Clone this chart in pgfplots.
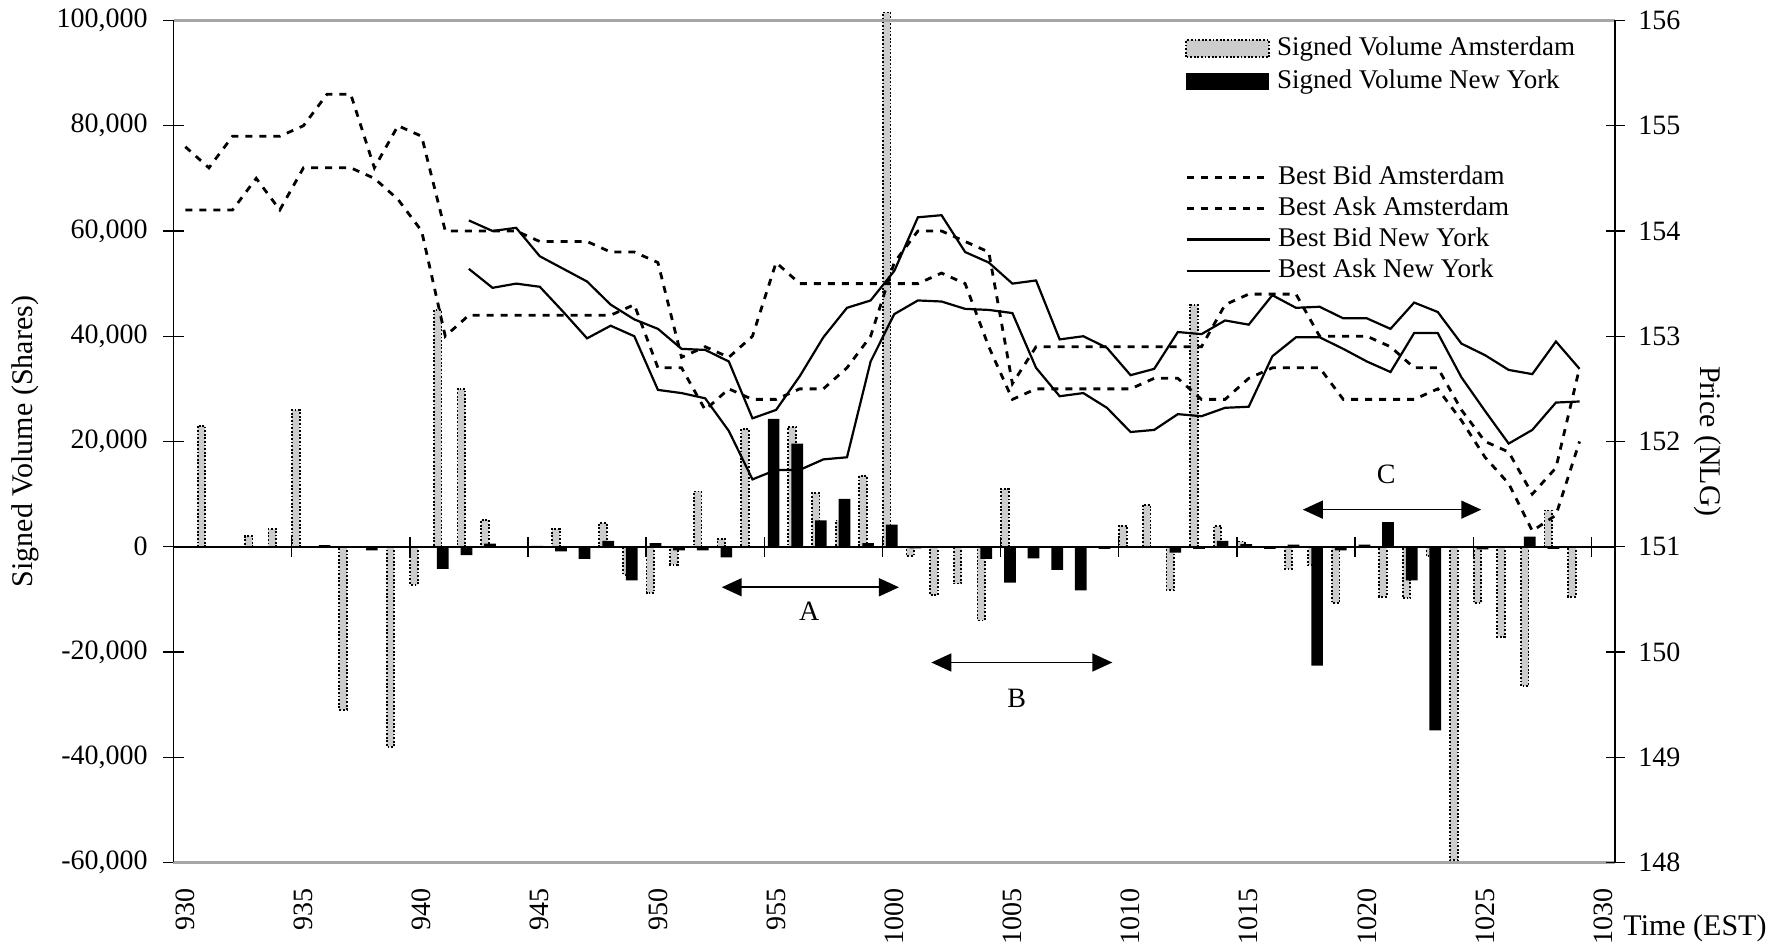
\documentclass[border=0pt]{standalone}
\usepackage{fontspec}
\setmainfont{Liberation Serif}
\usepackage{pgfplots}
\pgfplotsset{compat=1.18}
\usetikzlibrary{arrows.meta}

\tikzset{
  amsbar/.style={fill=gray!40, draw=black, line width=0.9pt, dash pattern=on 0.9pt off 0.9pt},
  nybar/.style={fill=black, draw=none},
  amsline/.style={black, line width=1.4pt, dash pattern=on 3.5pt off 3.5pt},
  nyline/.style={black, line width=1.1pt},
}

\begin{document}
\begin{tikzpicture}[font=\fontsize{14}{16.8}\selectfont]
\pgfplotsset{
  base/.style={scale only axis, width=720.75pt, height=421pt,
    at={(0pt,0pt)}, anchor=south west, xmin=-0.5, xmax=60.5, clip=false},
}

% ---------------- Axis A: signed volume bars ----------------
\begin{axis}[base,
  ymin=-60000, ymax=100000,
  axis x line*=bottom, axis y line*=left,
  x axis line style={draw=gray!70, line width=1.4pt, -},
  y axis line style={draw=black, line width=0.9pt, -},
  xtick={0,5,...,60},
  xticklabels={930,935,940,945,950,955,1000,1005,1010,1015,1020,1025,1030},
  xtick style={draw=none},
  xticklabel style={yshift=-8pt, rotate=90, anchor=east, inner sep=0pt},
  ytick={-60000,-40000,-20000,0,20000,40000,60000,80000,100000},
  yticklabels={{-60,000},{-40,000},{-20,000},0,{20,000},{40,000},{60,000},{80,000},{100,000}},
  ytick style={draw=black, line width=0.7pt},
  major tick length=10pt, tick align=center,
  yticklabel style={anchor=east, inner sep=0pt, xshift=-7.75pt},
  legend style={at={(0.7017,0.9824)}, anchor=north west, draw=none, fill=none,
    inner sep=0pt, row sep=3.4pt, column sep=3.5pt,
    nodes={inner sep=0pt, text height=10pt, text depth=3pt},
    font=\fontsize{13.5}{15}\selectfont},
  legend cell align=left,
]
\addplot[ybar, bar width=0.32, bar shift=-0.32, amsbar,
  legend image code/.code={\path[amsbar] (0pt,-4.25pt) rectangle (41.5pt,4.25pt);}]
coordinates {
(1,23000) (3,2000) (4,3400) (5,26000) (7,-31000) (9,-38000) (10,-7200)
(11,45000) (12,30000) (13,5100) (16,3400) (18,4500) (19,-5300) (20,-8800)
(21,-3400) (22,10500) (23,1500) (24,22400) (26,22800) (27,10200) (28,5000)
(29,13500) (30,101500) (31,-1700) (32,-9200) (33,-7000) (34,-14000) (35,11000)
(40,4000) (41,8000) (42,-8200) (43,46000) (44,3900) (45,1000) (47,-4200)
(48,-3500) (49,-10700) (51,-9500) (52,-9800) (53,-1800) (54,-59600)
(55,-10700) (56,-17100) (57,-26500) (58,6900) (59,-9500)
};
\addlegendentry{Signed Volume Amsterdam}
\addplot[ybar, bar width=0.495, bar shift=-0.105, nybar,
  legend image code/.code={\path[nybar] (0pt,-4.25pt) rectangle (41.5pt,4.25pt);}]
coordinates {
(6,300) (8,-700) (11,-4200) (12,-1600) (13,600) (14,-200) (15,150) (16,-900)
(17,-2300) (18,1100) (19,-6400) (20,700) (21,-700) (22,-700) (23,-2000)
(25,24300) (26,19600) (27,5000) (28,9100) (29,700) (30,4200) (31,-300)
(34,-2300) (35,-6800) (36,-2200) (37,-4400) (38,-8300) (39,-400) (41,-200)
(42,-1100) (43,-400) (44,1100) (45,500) (46,-400) (47,400) (48,-22600)
(49,-700) (50,400) (51,4700) (52,-6400) (53,-34900) (55,-500) (57,1900) (58,-400)
};
\addlegendentry{Signed Volume New York}

\draw[line width=0.8pt, {Triangle[length=10pt,width=9pt]}-{Triangle[length=10pt,width=9pt]}]
  (axis cs:22.7,-7700) -- (axis cs:30.2,-7700);
\node at (axis cs:26.4,-12300) {A};
\draw[line width=0.8pt, {Triangle[length=10pt,width=9pt]}-{Triangle[length=10pt,width=9pt]}]
  (axis cs:31.57,-22000) -- (axis cs:39.23,-22000);
\node at (axis cs:35.18,-28800) {B};
\draw[line width=0.8pt, {Triangle[length=10pt,width=9pt]}-{Triangle[length=10pt,width=9pt]}]
  (axis cs:47.29,7050) -- (axis cs:54.84,7050);
\node at (axis cs:50.82,13700) {C};
\end{axis}

% ---------------- Axis C: zero line (category axis) ----------------
\begin{axis}[base,
  ymin=-60000, ymax=100000,
  axis x line=middle, axis y line=none,
  x axis line style={draw=black, line width=0.9pt, -},
  xtick={4.5,9.5,...,59.5}, xticklabels={},
  xtick style={draw=black, line width=0.7pt},
  major tick length=10pt, tick align=center,
  ytick=\empty,
]
\end{axis}

% ---------------- Axis B: prices ----------------
\begin{axis}[base,
  ymin=148, ymax=156,
  axis x line*=top, axis y line*=right,
  x axis line style={draw=gray!70, line width=1.4pt, -},
  y axis line style={draw=black, line width=0.9pt, -},
  xtick=\empty,
  ytick={148,149,150,151,152,153,154,155,156},
  yticklabels={148,149,150,151,152,153,154,155,156},
  ytick style={draw=black, line width=0.7pt},
  major tick length=9.5pt, tick align=center,
  yticklabel style={anchor=west, inner sep=0pt, xshift=6.75pt},
  legend style={at={(0.7017,0.8299)}, anchor=north west, draw=none, fill=none,
    inner sep=0pt, row sep=2.6pt, column sep=3.5pt,
    nodes={inner sep=0pt, text height=10pt, text depth=3pt},
    font=\fontsize{13.5}{15}\selectfont},
  legend cell align=left,
]
% Amsterdam line 1
\addplot[amsline, legend image code/.code={\draw[amsline] (0pt,0pt) -- (41.5pt,0pt);}]
coordinates {
(0,154.2)(1,154.2)(2,154.2)(3,154.5)(4,154.2)(5,154.6)(6,154.6)(7,154.6)(8,154.5)(9,154.3)
(10,154.0)(11,153.0)(12,153.2)(13,153.2)(14,153.2)(15,153.2)(16,153.2)(17,153.2)(18,153.2)(19,153.3)
(20,152.7)(21,152.7)(22,152.3)(23,152.5)(24,152.4)(25,152.4)(26,152.5)(27,152.5)(28,152.7)(29,153.0)
(30,153.7)(31,154.0)(32,154.0)(33,153.9)(34,153.8)(35,152.55)(36,152.9)(37,152.9)(38,152.9)(39,152.9)
(40,152.9)(41,152.9)(42,152.9)(43,152.9)(44,153.3)(45,153.4)(46,153.4)(47,153.4)(48,153.0)(49,153.0)
(50,153.0)(51,152.9)(52,152.7)(53,152.7)(54,152.3)(55,152.0)(56,151.9)(57,151.5)(58,151.75)(59,152.7)
};
\addlegendentry{Best Bid Amsterdam}
% Amsterdam line 2
\addplot[amsline, legend image code/.code={\draw[amsline] (0pt,0pt) -- (41.5pt,0pt);}]
coordinates {
(0,154.8)(1,154.6)(2,154.9)(3,154.9)(4,154.9)(5,155.0)(6,155.3)(7,155.3)(8,154.6)(9,155.0)
(10,154.9)(11,154.0)(12,154.0)(13,154.0)(14,154.0)(15,153.9)(16,153.9)(17,153.9)(18,153.8)(19,153.8)
(20,153.7)(21,152.8)(22,152.9)(23,152.8)(24,153.0)(25,153.7)(26,153.5)(27,153.5)(28,153.5)(29,153.5)
(30,153.5)(31,153.5)(32,153.6)(33,153.5)(34,152.9)(35,152.4)(36,152.5)(37,152.5)(38,152.5)(39,152.5)
(40,152.5)(41,152.6)(42,152.6)(43,152.4)(44,152.4)(45,152.6)(46,152.7)(47,152.7)(48,152.7)(49,152.4)
(50,152.4)(51,152.4)(52,152.4)(53,152.5)(54,152.2)(55,151.85)(56,151.6)(57,151.15)(58,151.3)(59,152.0)
};
\addlegendentry{Best Ask Amsterdam}
% New York bid
\addplot[nyline, legend image code/.code={\draw[nyline] (0pt,0pt) -- (41.5pt,0pt);}]
coordinates {
(12,153.64)(13,153.46)(14,153.50)(15,153.47)(16,153.23)(17,152.98)(18,153.10)(19,153.00)
(20,152.49)(21,152.46)(22,152.41)(23,152.10)(24,151.64)(25,151.73)(26,151.73)(27,151.83)(28,151.85)(29,152.76)
(30,153.21)(31,153.34)(32,153.33)(33,153.26)(34,153.25)(35,153.22)(36,152.70)(37,152.43)(38,152.46)(39,152.32)
(40,152.09)(41,152.11)(42,152.26)(43,152.24)(44,152.32)(45,152.33)(46,152.81)(47,152.99)(48,152.99)(49,152.88)
(50,152.76)(51,152.66)(52,153.03)(53,153.03)(54,152.61)(55,152.29)(56,151.98)(57,152.11)(58,152.37)(59,152.38)
};
\addlegendentry{Best Bid New York}
% New York ask
\addplot[nyline, legend image code/.code={\draw[nyline] (0pt,0pt) -- (41.5pt,0pt);}]
coordinates {
(12,154.10)(13,154.00)(14,154.03)(15,153.76)(16,153.64)(17,153.52)(18,153.30)(19,153.16)
(20,153.07)(21,152.88)(22,152.87)(23,152.76)(24,152.22)(25,152.30)(26,152.62)(27,152.99)(28,153.27)(29,153.34)
(30,153.62)(31,154.13)(32,154.15)(33,153.80)(34,153.70)(35,153.50)(36,153.53)(37,152.97)(38,153.00)(39,152.89)
(40,152.63)(41,152.69)(42,153.04)(43,153.02)(44,153.15)(45,153.11)(46,153.39)(47,153.27)(48,153.28)(49,153.17)
(50,153.17)(51,153.07)(52,153.32)(53,153.23)(54,152.93)(55,152.82)(56,152.68)(57,152.64)(58,152.95)(59,152.69)
};
\addlegendentry{Best Ask New York}
\end{axis}

\node[rotate=90, font=\fontsize{15}{18}\selectfont] at (-74.25pt,210.5pt) {Signed Volume (Shares)};
\node[rotate=-90, font=\fontsize{15}{18}\selectfont] at (767.25pt,210.5pt) {Price (NLG)};
\node[font=\fontsize{15}{18}\selectfont] at (760.75pt,-32.75pt) {Time (EST)};

\pgfresetboundingbox
\path[use as bounding box] (-86.75pt,-44.25pt) rectangle (806.25pt,431.25pt);
\end{tikzpicture}
\end{document}
